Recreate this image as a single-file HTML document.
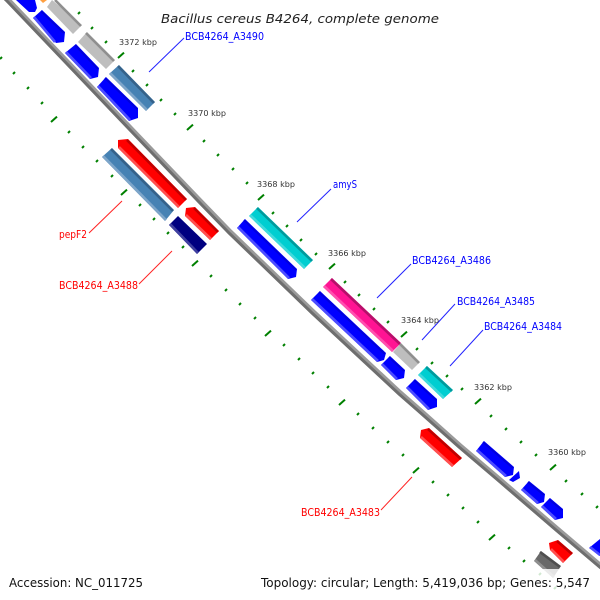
<!DOCTYPE html>
<html><head><meta charset="utf-8"><style>
html,body{margin:0;padding:0;background:#fff}
svg{display:block}
text{font-family:"DejaVu Sans","Liberation Sans",sans-serif}
.t{font-size:8px;fill:#333}
.n{font-size:11px}
.f{font-size:12px;fill:#111}
</style></head><body>
<svg width="600" height="600" viewBox="0 0 600 600" xmlns="http://www.w3.org/2000/svg">
<rect width="600" height="600" fill="#fff"/>
<polyline points="-2,-10 8,0 132,130 200,201 230,232 313,312 400,393 420,410.5 460,446 500,480 557,529 603,568 620,582" fill="none" stroke="#9a9a9a" stroke-width="5.5"/>
<polyline points="-2,-10 8,0 132,130 200,201 230,232 313,312 400,393 420,410.5 460,446 500,480 557,529 603,568 620,582" fill="none" stroke="#6e6e6e" stroke-width="3" transform="translate(-1,1)"/>

<g fill="none" stroke="#008000" stroke-width="2">
<path d="M78 14l2-2M91 29l2-2M105 43l2-2M132 72l2-2M146 86l2-2M160 101l2-2M174 115l2-2M203 142l2-2M217 156l2-2M232 170l2-2M246 184l2-2M272 214l2-2M286 227l2-2M300 241l2-2M315 255l2-2M344 283l2-2M358 296l2-2M373 310l2-2M387 323l2-2M416 350l2-2M431 364l2-2M446 377l2-2M461 390l2-2M490 417l2-2M505 430l2-2M520 443l2-2M535 456l2-2M565 482l2-2M581 495l2-2M596 508l2-2"/>
<path d="M0 59l2-2M13 74l2-2M27 89l2-2M41 104l2-2M68 133l2-2M82 148l2-2M96 162l2-2M111 177l2-2M139 206l2-2M153 220l2-2M167 234l2-2M182 248l2-2M210 277l2-2M225 291l2-2M239 305l2-2M254 319l2-2M283 346l2-2M298 360l2-2M312 374l2-2M327 388l2-2M357 415l2-2M372 429l2-2M387 443l2-2M402 456l2-2M432 483l2-2M447 496l2-2M462 509l2-2M477 523l2-2M508 549l2-2M523 562l2-2M539 575l2-2M554 589l2-2"/>
<path d="M118 58l6-5.4M187 130l6-5.4M258 200l6-5.4M329 269l6-5.4M401 337l6-5.4M475 404l6-5.4M550 470l6-5.4M51 122l6-5.4M121 195l6-5.4M192 266l6-5.4M265 336l6-5.4M339 405l6-5.4M413 473l6-5.4M489 540l6-5.4"/>
</g>

<!-- top blue A -->
<polygon points="16,0 35,0 37,8 35,12 29,12" fill="#00f"/>
<polygon points="40,0 47,0 43,3" fill="#ffa040"/>
<!-- blue B -->
<polygon points="42,10 65,32 64,42 56,43 33,18" fill="#00f"/>
<line x1="34" y1="17" x2="55" y2="42" stroke="#4d4dff" stroke-width="2.6"/>
<line x1="41" y1="11" x2="64" y2="33" stroke="#0000dd" stroke-width="2"/>
<!-- gray C,D -->
<polygon points="52,0 82,25 73,34 47,7" fill="#bebebe"/>
<line x1="55" y1="0" x2="81" y2="26" stroke="#8f8f8f" stroke-width="2.6"/>
<polygon points="87,32 115,60 106,69 78,42" fill="#bebebe"/>
<line x1="86" y1="33" x2="114" y2="61" stroke="#8f8f8f" stroke-width="2.6"/>
<!-- blue E -->
<polygon points="76,44 99,68 98,77 90,79 65,53" fill="#00f"/>
<line x1="66" y1="52" x2="91" y2="78" stroke="#4d4dff" stroke-width="2.6"/>
<line x1="75" y1="45" x2="98" y2="69" stroke="#0000dd" stroke-width="2"/>
<!-- steel F -->
<polygon points="119,65 155,102 146,111 109,74" fill="#4682b4"/>
<line x1="118" y1="66" x2="154" y2="103" stroke="#35628a" stroke-width="2.6"/>
<line x1="110" y1="73" x2="147" y2="110" stroke="#7da5c9" stroke-width="2.6"/>
<!-- blue G -->
<polygon points="106,77 138,108 138,118 129,121 97,87" fill="#00f"/>
<line x1="98" y1="86" x2="130" y2="120" stroke="#4d4dff" stroke-width="2.6"/>
<line x1="105" y1="78" x2="137" y2="109" stroke="#0000dd" stroke-width="2"/>
<!-- red H -->
<polygon points="128,139 187,199 178,208 118,148 118,140" fill="#f00"/>
<line x1="127" y1="140" x2="186" y2="200" stroke="#c00000" stroke-width="2.6"/>
<line x1="119" y1="147" x2="179" y2="207" stroke="#ff5050" stroke-width="2.6"/>
<!-- steel I -->
<polygon points="112,148 174,210 165,221 102,157" fill="#4682b4"/>
<line x1="111" y1="149" x2="173" y2="211" stroke="#35628a" stroke-width="2.6"/>
<line x1="103" y1="156" x2="166" y2="220" stroke="#7da5c9" stroke-width="2.6"/>
<!-- navy J -->
<polygon points="178,216 207,244 197,254 169,225" fill="#000080"/>
<line x1="170" y1="224" x2="198" y2="253" stroke="#4040a0" stroke-width="2.6"/>
<!-- red K -->
<polygon points="195,207 219,231 210,240 185,216 186,208" fill="#f00"/>
<line x1="194" y1="208" x2="218" y2="232" stroke="#c00000" stroke-width="2.6"/>
<line x1="186" y1="215" x2="211" y2="239" stroke="#ff5050" stroke-width="2.6"/>
<!-- teal L -->
<polygon points="258,207 313,260 304,269 249,216" fill="#00ced1"/>
<line x1="257" y1="208" x2="312" y2="261" stroke="#009a9c" stroke-width="2.6"/>
<line x1="250" y1="215" x2="305" y2="268" stroke="#40dadc" stroke-width="2.6"/>
<!-- blue M -->
<polygon points="245,219 297,269 296,277 288,279 237,228" fill="#00f"/>
<line x1="238" y1="227" x2="289" y2="278" stroke="#4d4dff" stroke-width="2.6"/>
<line x1="244" y1="220" x2="296" y2="270" stroke="#0000dd" stroke-width="2"/>
<!-- pink N -->
<polygon points="332,278 401,343 392,352 323,287" fill="#ff1493"/>
<line x1="331" y1="279" x2="400" y2="344" stroke="#b5106a" stroke-width="2.6"/>
<line x1="324" y1="286" x2="393" y2="351" stroke="#ff50ae" stroke-width="2.6"/>
<!-- blue O -->
<polygon points="320,291 386,353 384,360 377,362 311,300" fill="#00f"/>
<line x1="312" y1="299" x2="378" y2="361" stroke="#4d4dff" stroke-width="2.6"/>
<line x1="319" y1="292" x2="385" y2="354" stroke="#0000dd" stroke-width="2"/>
<!-- gray P -->
<polygon points="401,343 420,362 412,370 393,352" fill="#bebebe"/>
<line x1="400" y1="344" x2="419" y2="363" stroke="#8f8f8f" stroke-width="2.6"/>
<!-- blue Q -->
<polygon points="390,356 405,370 404,378 396,380 381,365" fill="#00f"/>
<line x1="382" y1="364" x2="397" y2="379" stroke="#4d4dff" stroke-width="2.6"/>
<line x1="389" y1="357" x2="404" y2="371" stroke="#0000dd" stroke-width="2"/>
<!-- teal R -->
<polygon points="427,366 453,390 443,399 418,375" fill="#00ced1"/>
<line x1="426" y1="367" x2="452" y2="391" stroke="#009a9c" stroke-width="2.6"/>
<line x1="419" y1="374" x2="444" y2="398" stroke="#40dadc" stroke-width="2.6"/>
<!-- blue S -->
<polygon points="415,379 437,399 437,407 428,410 406,388" fill="#00f"/>
<line x1="407" y1="387" x2="429" y2="409" stroke="#4d4dff" stroke-width="2.6"/>
<line x1="414" y1="380" x2="436" y2="400" stroke="#0000dd" stroke-width="2"/>
<!-- red T -->
<polygon points="429,428 462,458 452,467 420,438 421,430" fill="#f00"/>
<line x1="428" y1="429" x2="461" y2="459" stroke="#c00000" stroke-width="2.6"/>
<line x1="421" y1="437" x2="453" y2="466" stroke="#ff5050" stroke-width="2.6"/>
<!-- blue U,V,W,X -->
<polygon points="484,441 514,467 513,475 505,477 476,451" fill="#00f"/>
<line x1="477" y1="450" x2="506" y2="476" stroke="#4d4dff" stroke-width="2.6"/>
<line x1="483" y1="442" x2="513" y2="468" stroke="#0000dd" stroke-width="2"/>
<polygon points="519,471 520,478 513,482 509,480" fill="#00f"/>
<polygon points="529,481 545,494 544,502 537,504 521,490" fill="#00f"/>
<line x1="522" y1="489" x2="538" y2="503" stroke="#4d4dff" stroke-width="2.6"/>
<line x1="528" y1="482" x2="544" y2="495" stroke="#0000dd" stroke-width="2"/>
<polygon points="550,498 563,509 563,518 555,520 541,507" fill="#00f"/>
<line x1="542" y1="506" x2="556" y2="519" stroke="#4d4dff" stroke-width="2.6"/>
<line x1="549" y1="499" x2="562" y2="510" stroke="#0000dd" stroke-width="2"/>
<!-- red Y -->
<polygon points="558,540 573,553 563,563 550,550 549,543" fill="#f00"/>
<line x1="557" y1="541" x2="572" y2="554" stroke="#c00000" stroke-width="2.6"/>
<line x1="551" y1="549" x2="564" y2="562" stroke="#ff5050" stroke-width="2.6"/>
<!-- blue Z -->
<polygon points="600,539 589,548 600,556" fill="#00f"/>
<line x1="590" y1="547" x2="600" y2="555" stroke="#4d4dff" stroke-width="2.6"/>
<!-- dark gray AA -->
<polygon points="541,551 561,566 553,578 534,561" fill="#696969"/>
<line x1="540" y1="552" x2="560" y2="567" stroke="#4f4f4f" stroke-width="2.6"/>
<line x1="535" y1="560" x2="554" y2="577" stroke="#8f8f8f" stroke-width="2.6"/>

<rect x="0" y="569" width="600" height="31" fill="#fff" fill-opacity=".82"/>

<g stroke-width="1" fill="none">
<g stroke="#2222ff">
<line x1="149" y1="72" x2="184" y2="38"/>
<line x1="297" y1="222" x2="331" y2="189"/>
<line x1="377" y1="298" x2="411" y2="264"/>
<line x1="422" y1="340" x2="455" y2="304"/>
<line x1="450" y1="366" x2="483" y2="330"/>
</g>
<g stroke="#ff2222">
<line x1="122" y1="201" x2="89" y2="233"/>
<line x1="172" y1="251" x2="139" y2="284"/>
<line x1="412" y1="477" x2="381" y2="510"/>
</g>
</g>

<g>
<text class="t" x="119" y="45" textLength="38" lengthAdjust="spacingAndGlyphs">3372 kbp</text>
<text class="t" x="188" y="116" textLength="38" lengthAdjust="spacingAndGlyphs">3370 kbp</text>
<text class="t" x="257" y="187" textLength="38" lengthAdjust="spacingAndGlyphs">3368 kbp</text>
<text class="t" x="328" y="256" textLength="38" lengthAdjust="spacingAndGlyphs">3366 kbp</text>
<text class="t" x="401" y="323" textLength="38" lengthAdjust="spacingAndGlyphs">3364 kbp</text>
<text class="t" x="474" y="390" textLength="38" lengthAdjust="spacingAndGlyphs">3362 kbp</text>
<text class="t" x="548" y="455" textLength="38" lengthAdjust="spacingAndGlyphs">3360 kbp</text>
</g>

<g fill="#00f">
<text class="n" x="185" y="40" textLength="79" lengthAdjust="spacingAndGlyphs">BCB4264_A3490</text>
<text class="n" x="333" y="188" textLength="24" lengthAdjust="spacingAndGlyphs">amyS</text>
<text class="n" x="412" y="264" textLength="79" lengthAdjust="spacingAndGlyphs">BCB4264_A3486</text>
<text class="n" x="457" y="305" textLength="78" lengthAdjust="spacingAndGlyphs">BCB4264_A3485</text>
<text class="n" x="484" y="330" textLength="78" lengthAdjust="spacingAndGlyphs">BCB4264_A3484</text>
</g>
<g fill="#f00">
<text class="n" x="59" y="238" textLength="28" lengthAdjust="spacingAndGlyphs">pepF2</text>
<text class="n" x="59" y="289" textLength="79" lengthAdjust="spacingAndGlyphs">BCB4264_A3488</text>
<text class="n" x="301" y="516" textLength="79" lengthAdjust="spacingAndGlyphs">BCB4264_A3483</text>
</g>

<text x="161" y="23" font-size="12.5" font-style="italic" fill="#222" textLength="278" lengthAdjust="spacingAndGlyphs">Bacillus cereus B4264, complete genome</text>
<text class="f" x="9" y="587" textLength="134" lengthAdjust="spacingAndGlyphs">Accession: NC_011725</text>
<text class="f" x="261" y="587" textLength="329" lengthAdjust="spacingAndGlyphs">Topology: circular; Length: 5,419,036 bp; Genes: 5,547</text>
</svg>
</body></html>
